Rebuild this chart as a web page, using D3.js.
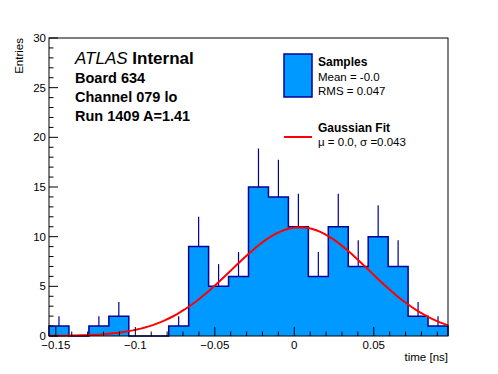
<!DOCTYPE html>
<html>
<head>
<meta charset="utf-8">
<script src="https://cdn.jsdelivr.net/npm/d3@7"></script>
<style>
  html, body { margin: 0; padding: 0; background: #fff; }
  svg { display: block; font-family: 'Liberation Sans', Arial, Helvetica, sans-serif; }
</style>
</head>
<body>
<svg id="chart" width="498" height="374"></svg>
<script>
// histogram contents, 20 bins over the x range
const binCounts = [1, 0, 1, 2, 0, 0, 1, 9, 5, 6, 15, 14, 11, 6, 11, 7, 10, 7, 2, 1];
const xRange = [-0.1543, 0.0967];
const yRange = [0, 30];
const xMajorTicks = [-0.15, -0.1, -0.05, 0, 0.05];
const xTickLabels = ['\u22120.15', '\u22120.1', '\u22120.05', '0', '0.05'];
const yMajorTicks = [0, 5, 10, 15, 20, 25, 30];

// gaussian fit parameters
const fitAmp = 10.95;
const fitMu = 0.0036;
const fitSigma = 0.0432;

const labelLines = ['Board 634', 'Channel 079 lo', 'Run 1409 A=1.41'];
const legendSamples = ['Mean = -0.0', 'RMS = 0.047'];
const legendFit = '\u03bc = 0.0, \u03c3 =0.043';

const fillBlue = '#0099ff';
const lineBlue = '#000099';

const svg = d3.select('#chart');
const width = 498;
const height = 374;
const margin = { top: 38, right: 50, bottom: 38, left: 49 };

svg.append('rect').attr('width', width).attr('height', height).attr('fill', '#fff');

const x = d3.scaleLinear().domain(xRange).range([margin.left, width - margin.right]);
const y = d3.scaleLinear().domain(yRange).range([height - margin.bottom, margin.top]);

const binWidth = (xRange[1] - xRange[0]) / binCounts.length;
const edges = d3.range(binCounts.length + 1).map(i => xRange[0] + i * binWidth);
const stepPts = edges.map((e, i) => ({ x: e, c: binCounts[Math.min(i, binCounts.length - 1)] }));

// error bars (lower half ends up under the fill)
svg.append('g').selectAll('line')
  .data(binCounts.map((c, i) => ({ c, xc: edges[i] + binWidth / 2 })).filter(d => d.c > 0))
  .enter().append('line')
  .attr('x1', d => x(d.xc)).attr('x2', d => x(d.xc))
  .attr('y1', d => y(d.c - Math.sqrt(d.c)))
  .attr('y2', d => y(d.c + Math.sqrt(d.c)))
  .attr('stroke', lineBlue)
  .attr('stroke-width', 1.2);

const area = d3.area().curve(d3.curveStepAfter)
  .x(d => x(d.x)).y0(y(0)).y1(d => y(d.c));

svg.append('path')
  .datum(stepPts)
  .attr('d', area)
  .attr('fill', fillBlue);

// outline incl. verticals at both ends
const outline = [{ x: xRange[0], c: 0 }].concat(stepPts);
const lineGen = d3.line().curve(d3.curveStepAfter).x(d => x(d.x)).y(d => y(d.c));
svg.append('path')
  .attr('d', lineGen(outline) + `L${x(xRange[1])},${y(0)}`)
  .attr('fill', 'none')
  .attr('stroke', lineBlue)
  .attr('stroke-width', 1.5);

// fit curve
const gauss = v => fitAmp * Math.exp(-((v - fitMu) ** 2) / (2 * fitSigma * fitSigma));
const fitX = d3.range(101).map(i => xRange[0] + (i / 100) * (xRange[1] - xRange[0]));
svg.append('path')
  .datum(fitX)
  .attr('d', d3.line().x(d => x(d)).y(d => y(gauss(d))))
  .attr('fill', 'none')
  .attr('stroke', '#ff0000')
  .attr('stroke-width', 2);

// frame
svg.append('rect')
  .attr('x', x(xRange[0])).attr('y', y(yRange[1]))
  .attr('width', x(xRange[1]) - x(xRange[0]))
  .attr('height', y(yRange[0]) - y(yRange[1]))
  .attr('fill', 'none').attr('stroke', '#000').attr('stroke-width', 1);

// x ticks
const xMinor = d3.range(-0.15, 0.1, 0.01).map(v => Math.round(v * 100) / 100)
  .filter(v => v >= xRange[0] && v <= xRange[1]);
const axisG = svg.append('g').attr('stroke', '#000').attr('stroke-width', 1);
xMinor.forEach((v) => {
  const major = xMajorTicks.some(m => Math.abs(m - v) < 1e-9);
  axisG.append('line')
    .attr('x1', x(v)).attr('x2', x(v))
    .attr('y1', y(0)).attr('y2', y(0) - (major ? 9 : 4.5));
});
d3.range(yRange[0], yRange[1] + 1).forEach((v) => {
  const major = v % 5 === 0;
  axisG.append('line')
    .attr('x1', x(xRange[0])).attr('x2', x(xRange[0]) + (major ? 9 : 4.5))
    .attr('y1', y(v)).attr('y2', y(v));
});

svg.append('g').selectAll('text')
  .data(xMajorTicks)
  .enter().append('text')
  .attr('x', d => x(d))
  .attr('y', y(0) + 13)
  .attr('text-anchor', 'middle')
  .attr('font-size', 11.5)
  .text((d, i) => xTickLabels[i]);

svg.append('g').selectAll('text')
  .data(yMajorTicks)
  .enter().append('text')
  .attr('x', x(xRange[0]) - 3)
  .attr('y', d => y(d) + 4)
  .attr('text-anchor', 'end')
  .attr('font-size', 11.5)
  .text(d => d);

svg.append('text')
  .attr('x', x(xRange[1]))
  .attr('y', 361)
  .attr('text-anchor', 'end')
  .attr('font-size', 11.5)
  .text('time [ns]');

svg.append('text')
  .attr('transform', `translate(23,${y(yRange[1])}) rotate(-90)`)
  .attr('text-anchor', 'end')
  .attr('font-size', 11.5)
  .text('Entries');

// ATLAS label
const atlas = svg.append('text').attr('x', 75).attr('y', 64).attr('font-size', 17);
atlas.append('tspan').attr('font-style', 'italic').text('ATLAS');
atlas.append('tspan').attr('font-weight', 'bold').text(' Internal');

labelLines.forEach((t, i) => {
  svg.append('text')
    .attr('x', 75).attr('y', 83 + i * 19)
    .attr('font-size', 14.5).attr('font-weight', 'bold')
    .text(t);
});

// legend
svg.append('rect')
  .attr('x', 284).attr('y', 54).attr('width', 28).attr('height', 43)
  .attr('fill', fillBlue).attr('stroke', lineBlue).attr('stroke-width', 1.5);
svg.append('text').attr('x', 318).attr('y', 66)
  .attr('font-size', 12).attr('font-weight', 'bold').text('Samples');
legendSamples.forEach((t, i) => {
  svg.append('text').attr('x', 318).attr('y', 81 + i * 13.5)
    .attr('font-size', 11.5).text(t);
});
svg.append('line')
  .attr('x1', 284).attr('x2', 312).attr('y1', 137).attr('y2', 137)
  .attr('stroke', '#ff0000').attr('stroke-width', 2);
svg.append('text').attr('x', 318).attr('y', 132)
  .attr('font-size', 12).attr('font-weight', 'bold').text('Gaussian Fit');
svg.append('text').attr('x', 318).attr('y', 146)
  .attr('font-size', 11.5).text(legendFit);
</script>
</body>
</html>
